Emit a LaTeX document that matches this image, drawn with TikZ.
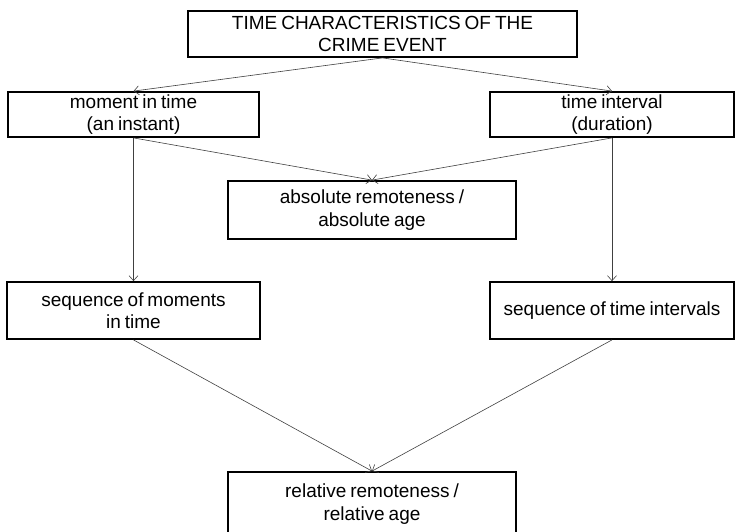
\documentclass[tikz,border=0pt]{standalone}
\usepackage{fontspec}
\setmainfont{Liberation Sans}[WordSpace=0.75]
\usetikzlibrary{arrows.meta}

\begin{document}
\begin{tikzpicture}[x=1pt, y=1pt,
        box/.style={draw=black, line width=1.8pt, align=center, inner sep=0pt,
            font=\fontsize{19}{22.5}\selectfont},
        link/.style={draw=black!75, line width=0.6pt, -{Straight Barb[length=5pt, width=9pt]}}]
        \useasboundingbox (0,0) rectangle (736,531);

        % Boxes
        \node[box, minimum width=389, minimum height=46] (event) at (382.5,497) {TIME CHARACTERISTICS OF THE\\CRIME EVENT};
        \node[box, minimum width=251, minimum height=45] (moment) at (133.5,416.5) {moment in time\\(an instant)};
        \node[box, minimum width=244, minimum height=45] (interval) at (612,416.5) {time interval\\(duration)};
        \node[box, minimum width=288, minimum height=58] (absolute) at (372,321) {absolute remoteness /\\absolute age};
        \node[box, minimum width=253, minimum height=57] (seqmoment) at (133.5,220.5) {sequence of moments\\in time};
        \node[box, minimum width=244, minimum height=57] (seqinterval) at (612,220.5) {sequence of time intervals};
        \node[box, minimum width=288, minimum height=64] (relative) at (372,27) {relative remoteness /\\relative age};

        % Connectors
        \draw[link] (event.south) -- (moment.north);
        \draw[link] (event.south) -- (interval.north);
        \draw[link] (moment.south) -- (absolute.north);
        \draw[link] (interval.south) -- (absolute.north);
        \draw[link] (moment.south) -- (seqmoment.north);
        \draw[link] (interval.south) -- (seqinterval.north);
        \draw[link] (seqmoment.south) -- (relative.north);
        \draw[link] (seqinterval.south) -- (relative.north);
    \end{tikzpicture}
\end{document}
